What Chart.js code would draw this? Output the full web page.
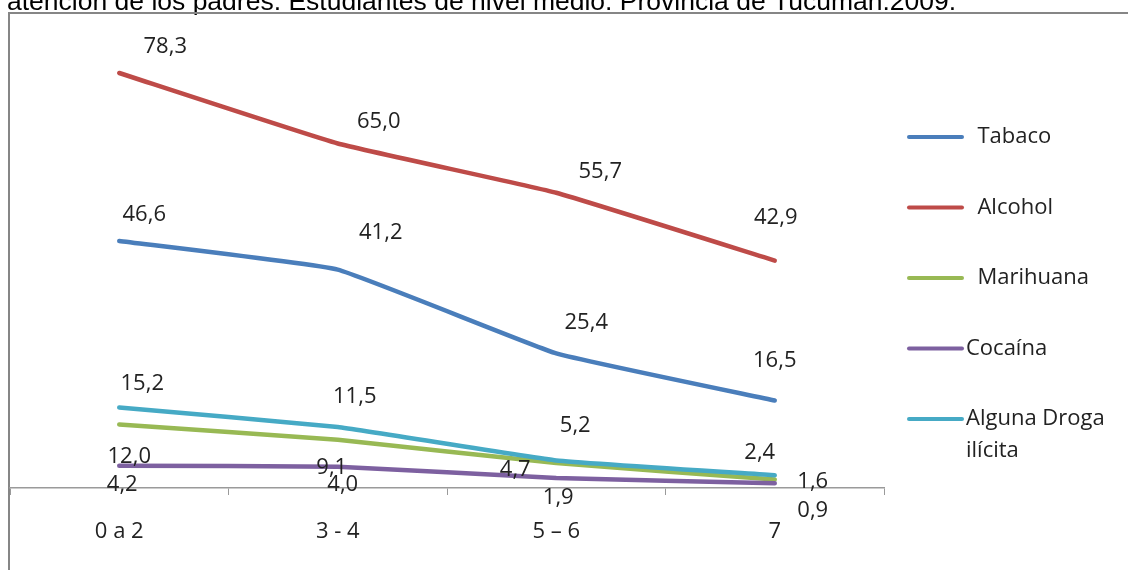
<!DOCTYPE html>
<html>
<head>
<meta charset="utf-8">
<script src="https://cdn.jsdelivr.net/npm/chart.js@4/dist/chart.umd.min.js"></script>
<style>
  html, body { margin: 0; padding: 0; background: #fff; }
  canvas { display: block; }
</style>
</head>
<body>
<canvas id="grafico" width="1128" height="570"></canvas>
<script>
// datos
var categorias = ['0 a 2', '3 - 4', '5 – 6', '7'];
var tabaco     = [46.6, 41.2, 25.4, 16.5];
var alcohol    = [78.3, 65.0, 55.7, 42.9];
var marihuana  = [12.0, 9.1, 4.7, 1.6];
var cocaina    = [4.2, 4.0, 1.9, 0.9];
var alguna     = [15.2, 11.5, 5.2, 2.4];
var nombres    = [' Tabaco', ' Alcohol', ' Marihuana', 'Cocaína', 'Alguna Droga ilícita'];
var titulo     = 'atención de los padres. Estudiantes de nivel medio. Provincia de Tucumán.2009.';

var colores = ['#4A7EBB', '#BE4B48', '#98B954', '#7D60A0', '#46AAC5'];
// desplazamiento de las etiquetas respecto del punto (dx, dy)
var desplaz = [
  [[25, -26], [43, -37], [30, -31], [0, -40]],
  [[46, -26], [41, -22], [44, -21], [1, -43]],
  [[10, 32], [-6, 28], [-41, 7], [38, 2]],
  [[3, 19], [5, 18], [2, 20], [38, 28]],
  [[23, -24], [17, -30], [19, -35], [-15, -23]]
];
var fuente = "22px 'Open Sans'";

// marco + titulo
var marco = {
  id: 'marco',
  beforeDraw: function (chart) {
    var ctx = chart.ctx;
    ctx.save();
    ctx.fillStyle = '#000';
    ctx.font = "26.5px 'Liberation Sans', Arial";
    ctx.textBaseline = 'alphabetic';
    ctx.fillText(titulo, 7, 9.5);
    ctx.strokeStyle = '#868686';
    ctx.lineWidth = 2;
    ctx.beginPath();
    ctx.moveTo(9, 570);
    ctx.lineTo(9, 13);
    ctx.lineTo(1128, 13);
    ctx.stroke();
    ctx.restore();
  }
};

// etiquetas de valores
var etiquetas = {
  id: 'etiquetas',
  afterDatasetsDraw: function (chart) {
    var ctx = chart.ctx;
    ctx.save();
    ctx.font = fuente;
    ctx.fillStyle = '#222';
    ctx.textAlign = 'center';
    ctx.textBaseline = 'middle';
    chart.data.datasets.forEach(function (ds, i) {
      var meta = chart.getDatasetMeta(i);
      meta.data.forEach(function (pt, j) {
        var d = desplaz[i][j];
        ctx.fillText(ds.data[j].toFixed(1).replace('.', ','), pt.x + d[0], pt.y + d[1]);
      });
    });
    ctx.restore();
  }
};

// leyenda
var leyenda = {
  id: 'leyenda',
  afterDraw: function (chart) {
    var ctx = chart.ctx;
    ctx.save();
    ctx.font = fuente;
    ctx.textBaseline = 'middle';
    ctx.textAlign = 'left';
    chart.data.datasets.forEach(function (ds, i) {
      var y = 137 + i * 70.5;
      ctx.strokeStyle = ds.borderColor;
      ctx.lineWidth = 4;
      ctx.lineCap = 'round';
      ctx.beginPath();
      ctx.moveTo(909, y);
      ctx.lineTo(962, y);
      ctx.stroke();
      ctx.fillStyle = '#222';
      // partir en lineas
      var palabras = ds.label.split(' ');
      var lineas = [], actual = '';
      palabras.forEach(function (p) {
        var prueba = actual === '' && ds.label.charAt(0) !== ' ' ? p : actual + ' ' + p;
        if (actual !== '' && ctx.measureText(prueba).width > 155) {
          lineas.push(actual);
          actual = p;
        } else {
          actual = prueba;
        }
      });
      lineas.push(actual);
      lineas.forEach(function (l, k) {
        ctx.fillText(l, 966, y + k * 32);
      });
    });
    ctx.restore();
  }
};

var series = [tabaco, alcohol, marihuana, cocaina, alguna];
var datasets = series.map(function (s, i) {
  return {
    label: nombres[i],
    data: s,
    borderColor: colores[i],
    backgroundColor: colores[i],
    borderWidth: 4.5,
    pointRadius: 0,
    tension: 0.1,
    borderJoinStyle: 'round',
    borderCapStyle: 'round',
    fill: false,
    order: 5 - i
  };
});

new Chart(document.getElementById('grafico').getContext('2d'), {
  type: 'line',
  data: { labels: categorias, datasets: datasets },
  options: {
    responsive: false,
    animation: false,
    events: [],
    layout: { autoPadding: false, padding: { left: 10, right: 244, top: 11, bottom: 0 } },
    plugins: { legend: { display: false }, tooltip: { enabled: false }, title: { display: false } },
    scales: {
      x: {
        offset: true,
        grid: { offset: true, drawOnChartArea: false, drawTicks: true, tickLength: 7, color: '#9a9a9a', lineWidth: 1 },
        border: { display: true, color: '#9a9a9a', width: 1.5 },
        ticks: { color: '#222', font: { family: 'Open Sans', size: 22 }, padding: 24, maxRotation: 0 },
        afterFit: function (axis) { axis.height = 82; }
      },
      y: { display: false, min: 0, max: 90 }
    }
  },
  plugins: [marco, etiquetas, leyenda]
});
</script>
</body>
</html>
